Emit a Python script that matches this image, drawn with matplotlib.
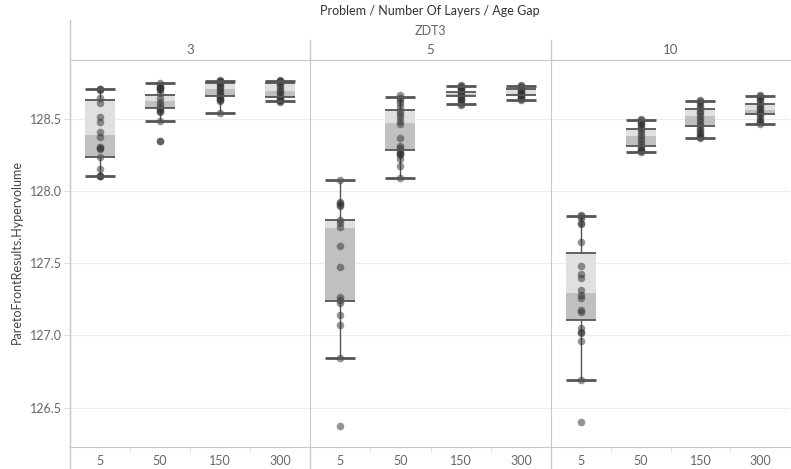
import matplotlib.pyplot as plt
from matplotlib.lines import Line2D

plt.rcParams['font.family'] = ['Lato', 'DejaVu Sans']

layers = ['3', '5', '10']
age_gaps = ['5', '50', '150', '300']

# box stats; order: layers 3, 5, 10, each with age gap 5, 50, 150, 300
whis_hi = [128.704, 128.748, 128.761, 128.761, 128.077, 128.651, 128.727, 128.723, 127.828, 128.490, 128.623, 128.658]
box_q3 = [128.626, 128.663, 128.743, 128.743, 127.796, 128.557, 128.685, 128.704, 127.568, 128.425, 128.564, 128.598]
box_med = [128.386, 128.621, 128.704, 128.690, 127.743, 128.471, 128.672, 128.669, 127.293, 128.379, 128.517, 128.559]
box_q1 = [128.232, 128.570, 128.656, 128.647, 127.236, 128.280, 128.656, 128.663, 127.104, 128.308, 128.446, 128.531]
whis_lo = [128.104, 128.485, 128.536, 128.623, 126.846, 128.091, 128.598, 128.630, 126.692, 128.270, 128.367, 128.464]

# individual runs (hypervolume)
pts_3_5 = [128.704, 128.704, 128.700, 128.640, 128.605, 128.508, 128.474, 128.405, 128.370, 128.301, 128.298,
           128.287, 128.232, 128.149, 128.104, 128.104, 128.100]
pts_3_50 = [128.748, 128.725, 128.718, 128.713, 128.706, 128.702, 128.674, 128.640, 128.617, 128.594, 128.571,
            128.560, 128.552, 128.548, 128.485, 128.347, 128.342]
pts_3_150 = [128.768, 128.762, 128.758, 128.752, 128.745, 128.735, 128.720, 128.705, 128.690, 128.675, 128.660,
             128.648, 128.640, 128.635, 128.628, 128.622, 128.536]
pts_3_300 = [128.768, 128.762, 128.758, 128.752, 128.740, 128.722, 128.705, 128.690, 128.675, 128.660, 128.645,
             128.636, 128.630, 128.625, 128.620, 128.615]
pts_5_5 = [128.075, 127.925, 127.913, 127.905, 127.897, 127.798, 127.775, 127.748, 127.618, 127.475, 127.268,
           127.245, 127.222, 127.141, 127.072, 126.846, 126.373]
pts_5_50 = [128.663, 128.645, 128.628, 128.605, 128.582, 128.554, 128.531, 128.508, 128.485, 128.460, 128.367,
            128.312, 128.294, 128.266, 128.262, 128.252, 128.248, 128.218, 128.172, 128.091]
pts_5_150 = [128.735, 128.728, 128.720, 128.712, 128.705, 128.695, 128.685, 128.675, 128.665, 128.655, 128.645,
             128.635, 128.625, 128.612, 128.603, 128.596]
pts_5_300 = [128.730, 128.724, 128.718, 128.710, 128.702, 128.694, 128.686, 128.678, 128.670, 128.662, 128.654,
             128.646, 128.640, 128.634, 128.628]
pts_10_5 = [127.833, 127.828, 127.810, 127.775, 127.770, 127.648, 127.482, 127.422, 127.395, 127.314, 127.279,
            127.257, 127.176, 127.164, 127.049, 127.026, 127.020, 126.963, 126.692, 126.403]
pts_10_50 = [128.495, 128.487, 128.478, 128.468, 128.455, 128.440, 128.425, 128.405, 128.385, 128.365, 128.345,
             128.325, 128.305, 128.292, 128.282, 128.275, 128.268]
pts_10_150 = [128.630, 128.618, 128.605, 128.590, 128.575, 128.555, 128.535, 128.515, 128.495, 128.475, 128.455,
              128.435, 128.420, 128.405, 128.390, 128.378, 128.370, 128.364]
pts_10_300 = [128.665, 128.656, 128.645, 128.632, 128.618, 128.602, 128.588, 128.572, 128.558, 128.545, 128.530,
              128.515, 128.500, 128.486, 128.474, 128.464]

points = [pts_3_5, pts_3_50, pts_3_150, pts_3_300,
          pts_5_5, pts_5_50, pts_5_150, pts_5_300,
          pts_10_5, pts_10_50, pts_10_150, pts_10_300]

W, H = 791, 469
fig = plt.figure(figsize=(W / 100, H / 100), dpi=100)

line_col = '#c8c8c8'
text_col = '#666666'
edges = [70, 310, 551, 790]
top_px, bot_px = 60, 447

axes = []
for p in range(3):
    x0, x1 = edges[p], edges[p + 1]
    ax = fig.add_axes([x0 / W, 1 - bot_px / H, (x1 - x0) / W, (bot_px - top_px) / H])
    axes.append(ax)
    for j in range(4):
        k = p * 4 + j
        ax.bar(j, box_med[k] - box_q1[k], bottom=box_q1[k], width=0.5, color='#c0c0c0', zorder=1)
        ax.bar(j, box_q3[k] - box_med[k], bottom=box_med[k], width=0.5, color='#e0e0e0', zorder=1)
        ax.vlines(j, whis_lo[k], box_q1[k], color='#555555', lw=1, zorder=2)
        ax.vlines(j, box_q3[k], whis_hi[k], color='#555555', lw=1, zorder=2)
        ax.scatter([j] * len(points[k]), points[k], s=30, color='#333333', alpha=0.52, lw=0, zorder=3)
        ax.hlines([box_q1[k], box_q3[k]], j - 0.25, j + 0.25, color='#555555', lw=1.3, zorder=4)
        ax.hlines([whis_lo[k], whis_hi[k]], j - 0.25, j + 0.25, color='#555555', lw=2, zorder=4)

    ax.set_xlim(-0.5, 3.5)
    ax.set_ylim(126.228, 128.905)
    ax.set_yticks([126.5, 127.0, 127.5, 128.0, 128.5])
    ax.yaxis.grid(True, color='#ececec', lw=0.8)
    ax.set_axisbelow(True)
    ax.set_xticks(range(4))
    ax.set_xticklabels(age_gaps, color=text_col, fontsize=9)
    ax.set_xticks([0.5, 1.5, 2.5], minor=True)
    ax.tick_params(axis='x', which='major', length=0, pad=6)
    ax.tick_params(axis='x', which='minor', length=4, color='#e4e4e4')
    for s in ['left', 'top', 'bottom']:
        ax.spines[s].set_color(line_col)
    ax.spines['right'].set_visible(False)
    if p == 0:
        ax.tick_params(axis='y', length=4, color='#e4e4e4', labelcolor=text_col, labelsize=9, pad=2)
    else:
        ax.tick_params(axis='y', length=0, labelleft=False)
    fig.text((x0 + x1) / 2 / W, 1 - 50 / H, layers[p], ha='center', va='center', color=text_col, fontsize=9.5)

# header and panel separator lines
fig.add_artist(Line2D([70 / W, 70 / W], [1 - 20 / H, 0], color=line_col, lw=1))
for x in edges[1:3]:
    fig.add_artist(Line2D([x / W, x / W], [1 - 40 / H, 1 - 60 / H], color=line_col, lw=1))
    fig.add_artist(Line2D([x / W, x / W], [1 - 447 / H, 0], color=line_col, lw=1))

fig.text(430 / W, 1 - 11 / H, 'Problem / Number Of Layers / Age Gap', ha='center', va='center',
         color='#333333', fontsize=9)
fig.text(430 / W, 1 - 31 / H, 'ZDT3', ha='center', va='center', color=text_col, fontsize=9)
fig.text(17 / W, 1 - 252 / H, 'ParetoFrontResults.Hypervolume', ha='center', va='center',
         rotation=90, color='#444444', fontsize=9)

fig.savefig('out.png', dpi=100)
